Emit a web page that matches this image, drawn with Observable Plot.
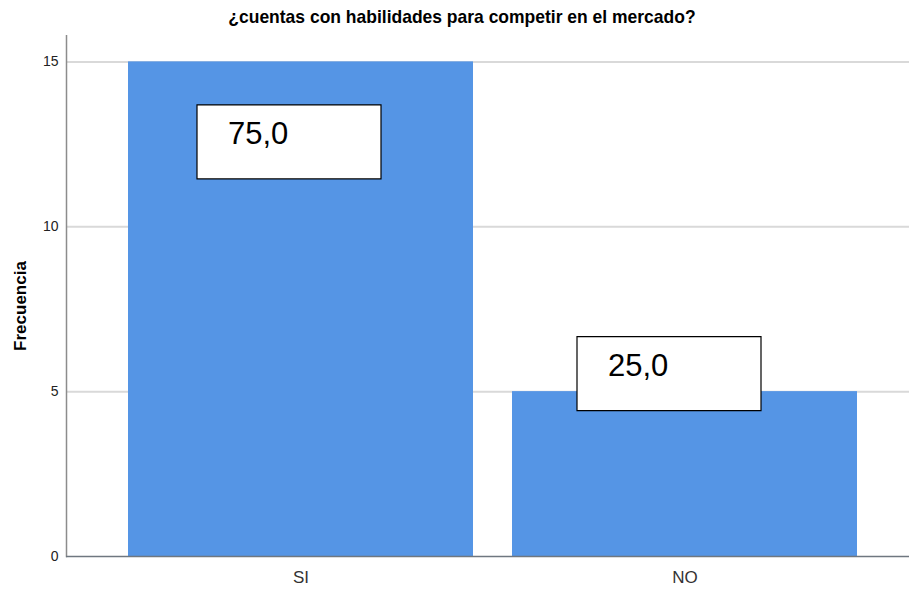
<!DOCTYPE html>
<html>
<head>
<meta charset="utf-8">
<script src="https://cdn.jsdelivr.net/npm/d3@7"></script>
<script src="https://cdn.jsdelivr.net/npm/@observablehq/plot@0.6"></script>
<style>
  html, body { margin: 0; padding: 0; background: #fff; }
  #wrap { width: 909px; height: 589px; position: relative; overflow: hidden; }
  #title { height: 35px; box-sizing: border-box; padding-top: 7px; text-align: center; line-height: 20px; }
  #title span { display: inline-block; transform: scaleX(0.92); transform-origin: center;
    font-family: "Liberation Sans", Arial, sans-serif; font-weight: bold; font-size: 19px; color: #000; margin-left: 14px; }
  #ylab { position: absolute; left: 21px; top: 306px; transform: translate(-50%, -50%) rotate(-90deg);
    font-family: "Liberation Sans", Arial, sans-serif; font-weight: bold; font-size: 17px; color: #000; white-space: nowrap; }
</style>
</head>
<body>
<div id="wrap">
  <div id="title"><span>¿cuentas con habilidades para competir en el mercado?</span></div>
  <div id="chart"></div>
  <div id="ylab"></div>
</div>
<script>
const categories = ["SI", "NO"];
const frequencies = [15, 5];
const percentLabels = ["75,0", "25,0"];
const yTicks = [0, 5, 10, 15];
const yLabel = "Frecuencia";

document.getElementById("ylab").textContent = yLabel;

const data = categories.map((c, i) => ({cat: c, value: frequencies[i], label: percentLabels[i]}));

const boxSymbol = { draw(ctx) { ctx.rect(-92, -37, 184, 74); } };
const offsets = { SI: {dx: -12, dy: 80}, NO: {dx: -16, dy: -18} };

const labelMarks = categories.flatMap(c => {
  const d = data.filter(e => e.cat === c);
  const o = offsets[c];
  return [
    Plot.dot(d, {x: "cat", y: "value", symbol: boxSymbol, fill: "white", stroke: "black", strokeWidth: 1.2, dx: o.dx, dy: o.dy}),
    Plot.text(d, {x: "cat", y: "value", text: "label", dx: o.dx - 61, dy: o.dy - 8, textAnchor: "start",
      fontSize: 31, fill: "#000", fontFamily: "Liberation Sans, Arial, sans-serif"})
  ];
});

const chart = Plot.plot({
  width: 909,
  height: 554,
  marginLeft: 66,
  marginRight: 0,
  marginTop: 0,
  marginBottom: 33,
  style: { fontFamily: "Liberation Sans, Arial, sans-serif", background: "white" },
  x: { domain: categories, paddingInner: 0.101, paddingOuter: 0.1455, align: 0.545 },
  y: { domain: [0, 15.8] },
  marks: [
    Plot.gridY(yTicks.filter(t => t > 0), {stroke: "#d9d9d9", strokeOpacity: 1, strokeWidth: 2}),
    Plot.barY(data, {x: "cat", y: "value", fill: "#5595e5"}),
    Plot.frame({anchor: "left", stroke: "#8c8c8c", strokeWidth: 1.5}),
    Plot.ruleY([0], {stroke: "#6f7780", strokeWidth: 1.5}),
    Plot.axisY({ticks: yTicks, tickSize: 0, tickPadding: 8, fontSize: 14, fill: "#222", label: null}),
    Plot.axisX({tickSize: 0, tickPadding: 14, fontSize: 17, fill: "#333", label: null}),
    ...labelMarks
  ]
});
document.getElementById("chart").appendChild(chart);
</script>
</body>
</html>
